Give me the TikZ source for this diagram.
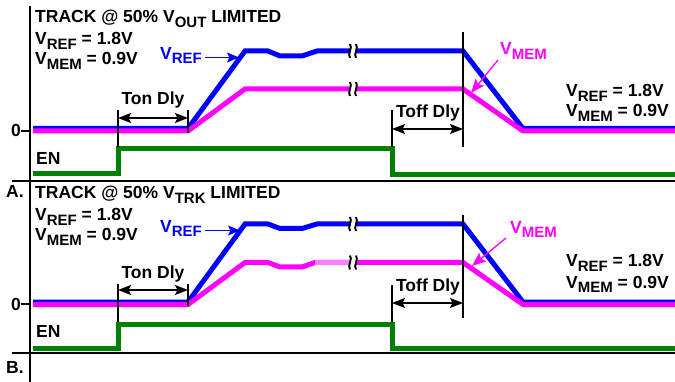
\documentclass[tikz,border=0pt]{standalone}
\usepackage{fontspec}
\setmainfont{Liberation Sans}
\usetikzlibrary{arrows.meta}
\definecolor{vblue}{RGB}{0,0,255}
\definecolor{vmag}{RGB}{255,0,255}
\definecolor{vpink}{RGB}{255,128,255}
\definecolor{vgreen}{RGB}{0,128,0}
\newcommand\mysub[1]{\raisebox{-4.5pt}{\fontsize{15}{15}\selectfont #1}}
\begin{document}
\begin{tikzpicture}[x=1pt,y=-1pt,
  lbl/.style={font=\fontsize{17.5}{20}\selectfont\bfseries, inner sep=0pt, anchor=base west},
  ctr/.style={lbl, anchor=base},
  trace/.style={line width=5pt},
  marker/.style={line width=1.5pt, black},
  frame/.style={line width=2pt, black},
  dly/.style={line width=1.6pt, {Stealth[length=13pt,width=10pt,inset=2.5pt]}-{Stealth[length=13pt,width=10pt,inset=2.5pt]}},
  brk/.pic={
    \fill[white] (-3.2,-4.5) rectangle (3.2,4.5);
    \draw[line width=1.9pt] (-3,-7) .. controls (0,-3.5) and (-6,3.5) .. (-3,7);
    \draw[line width=1.9pt] (3,-7) .. controls (6,-3.5) and (0,3.5) .. (3,7);
  }]
\useasboundingbox (0,0) rectangle (675,382);

% frame
\draw[frame] (30,6) -- (30,382);
\draw[frame] (12,181) -- (675,181);
\draw[frame] (12,353) -- (675,353);

% ================= Panel A =================
\draw[trace, vgreen] (33,174) -- (118,174) -- (118,149) -- (392,149) -- (392,174.5) -- (675,174.5);
\draw[trace, vblue] (33,128.5) -- (188,128.5) -- (245,51) -- (268,51) -- (280,56) -- (302,56) -- (317,51) -- (463,51) -- (523,128.5) -- (675,128.5);
\draw[trace, vmag] (33,131) -- (188,131) -- (245,89) -- (463,89) -- (523,131) -- (675,131);
\pic at (353,51) {brk};
\pic at (353,89) {brk};

\coordinate (mA1t) at (118,110); \coordinate (mA1b) at (118,147);
\coordinate (mA2t) at (188,110); \coordinate (mA2b) at (188,133);
\coordinate (mA3t) at (392,110); \coordinate (mA3b) at (392,147);
\coordinate (mA4t) at (463,32);  \coordinate (mA4b) at (463,147);
\draw[marker] (mA1t) -- (mA1b);
\draw[marker] (mA2t) -- (mA2b);
\draw[marker] (mA3t) -- (mA3b);
\draw[marker] (mA4t) -- (mA4b);
\coordinate (tonA1) at (118,118); \coordinate (tonA2) at (188,118);
\coordinate (toffA1) at (392,129); \coordinate (toffA2) at (463,129);
\draw[dly] (tonA1) -- (tonA2);
\draw[dly] (toffA1) -- (toffA2);
\node[ctr] (tonAl) at (153,105) {Ton Dly};
\node[ctr] (toffAl) at (428,118) {Toff Dly};

\node[lbl] (titleA) at (35,23) {TRACK @ 50\% V\mysub{OUT} LIMITED};
\node[lbl] (refA) at (35,45) {V\mysub{REF} = 1.8V};
\node[lbl] (memA) at (35,65) {V\mysub{MEM} = 0.9V};
\node[lbl] (refA2) at (566,97) {V\mysub{REF} = 1.8V};
\node[lbl] (memA2) at (566,117) {V\mysub{MEM} = 0.9V};
\node[lbl, anchor=base east] (zeroA) at (21,137) {0};
\draw[frame] (zeroA.east |- 0,131) -- (30,131);
\node[lbl] (enA) at (36,164.5) {EN};

\node[lbl, text=vblue] (vrefA) at (160,59.5) {V\mysub{REF}};
\coordinate (vrefAtip) at (239,57.5);
\draw[vblue, line width=1.5pt, -{Stealth[length=12pt,width=10pt,inset=2.5pt]}] ([xshift=3pt]vrefA.east |- vrefAtip) -- (vrefAtip);
\node[lbl, text=vmag] (vmemA) at (500,55) {V\mysub{MEM}};
\coordinate (vmemAtip) at (471,93);
\draw[vmag, line width=1.3pt, -{Stealth[length=14pt,width=11pt,inset=2.5pt]}] (498,60) -- (vmemAtip);

% ================= Panel B =================
\draw[trace, vgreen] (33,348) -- (118,348) -- (118,324) -- (392,324) -- (392,348) -- (675,348);
\draw[trace, vblue] (33,302) -- (188,302) -- (245,224) -- (268,224) -- (280,228.5) -- (302,228.5) -- (317,224) -- (463,224) -- (523,302) -- (675,302);
\draw[trace, vmag] (33,304.5) -- (188,304.5) -- (245,262.5) -- (268,262.5) -- (280,267) -- (302,267) -- (315,262.5) -- (463,262.5) -- (523,304.5) -- (675,304.5);
\draw[trace, vpink] (315,262.5) -- (350,262.5);
\pic at (353,224) {brk};
\pic at (353,262.5) {brk};

\coordinate (mB1t) at (118,284); \coordinate (mB1b) at (118,322);
\coordinate (mB2t) at (188,284); \coordinate (mB2b) at (188,306);
\coordinate (mB3t) at (392,285); \coordinate (mB3b) at (392,322);
\coordinate (mB4t) at (463,215); \coordinate (mB4b) at (463,318);
\draw[marker] (mB1t) -- (mB1b);
\draw[marker] (mB2t) -- (mB2b);
\draw[marker] (mB3t) -- (mB3b);
\draw[marker] (mB4t) -- (mB4b);
\coordinate (tonB1) at (118,290); \coordinate (tonB2) at (188,290);
\coordinate (toffB1) at (392,303); \coordinate (toffB2) at (463,303);
\draw[dly] (tonB1) -- (tonB2);
\draw[dly] (toffB1) -- (toffB2);
\node[ctr] (tonBl) at (153,279) {Ton Dly};
\node[ctr] (toffBl) at (428,291) {Toff Dly};

\node[lbl] (labA) at (6,198) {A.};
\node[lbl] (labB) at (6,373) {B.};
\node[lbl] (titleB) at (35,199) {TRACK @ 50\% V\mysub{TRK} LIMITED};
\node[lbl] (refB) at (35,221) {V\mysub{REF} = 1.8V};
\node[lbl] (memB) at (35,241) {V\mysub{MEM} = 0.9V};
\node[lbl] (refB2) at (566,267) {V\mysub{REF} = 1.8V};
\node[lbl] (memB2) at (566,288) {V\mysub{MEM} = 0.9V};
\node[lbl, anchor=base east] (zeroB) at (21,310) {0};
\draw[frame] (zeroB.east |- 0,304) -- (30,304);
\node[lbl] (enB) at (36,337.5) {EN};

\node[lbl, text=vblue] (vrefB) at (160,232.5) {V\mysub{REF}};
\coordinate (vrefBtip) at (240,230.5);
\draw[vblue, line width=1.5pt, -{Stealth[length=12pt,width=10pt,inset=2.5pt]}] ([xshift=3pt]vrefB.east |- vrefBtip) -- (vrefBtip);
\node[lbl, text=vmag] (vmemB) at (510,233.5) {V\mysub{MEM}};
\coordinate (vmemBtip) at (472,266);
\draw[vmag, line width=1.3pt, -{Stealth[length=14pt,width=11pt,inset=2.5pt]}] (506,238) -- (vmemBtip);
\end{tikzpicture}
\end{document}
